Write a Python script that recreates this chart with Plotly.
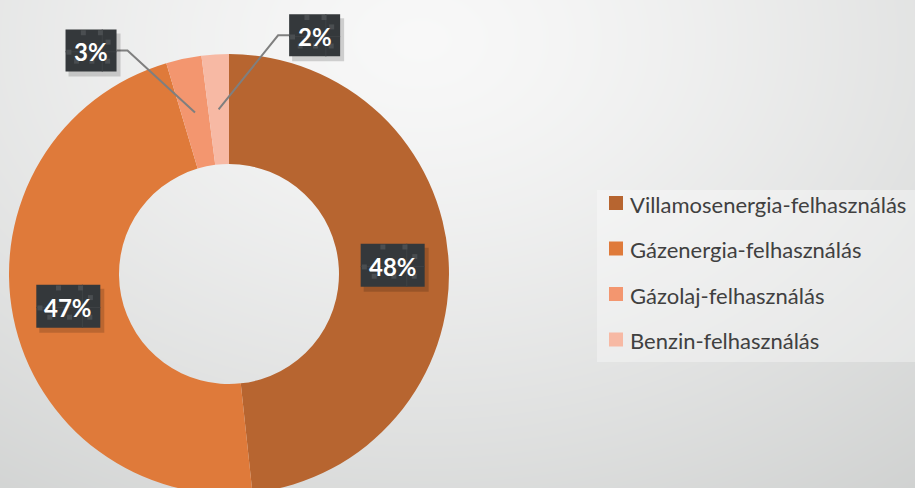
import math
import numpy as np
import plotly.graph_objects as go

# ---------------- data ----------------
labels = ["Villamosenergia-felhasználás", "Gázenergia-felhasználás",
          "Gázolaj-felhasználás", "Benzin-felhasználás"]
values = [48.3, 47.1, 2.6, 2.0]
pct_text = ["48%", "47%", "3%", "2%"]

colors = ["#B76530", "#DF7A3A", "#F3966F", "#F7B9A4"]

W, H = 915, 494            # figure is slightly taller than the 488px window; the donut is cut at the bottom
cx, cy, R = 229, 274, 220   # donut centre / radius in px (from top-left)
HOLE = 0.5

fig = go.Figure()

# ---------------- background gradient ----------------
gx = np.linspace(0, W, 93)
gy = np.linspace(0, H, 50)
GX, GY = np.meshgrid(gx, gy)
d = np.sqrt((GX - 420) ** 2 + (1.4 * (GY - 40)) ** 2)
z = 248 - 40 * (np.clip(d, 0, 900) / 800) ** 1.3
fig.add_trace(go.Heatmap(x=gx, y=gy, z=z, zmin=200, zmax=250, zsmooth="best",
                         colorscale=[[0, "rgb(200,202,201)"], [1, "rgb(250,250,250)"]],
                         showscale=False, hoverinfo="skip"))

# ---------------- donut ----------------
fig.add_trace(go.Pie(
    labels=labels, values=values, sort=False, direction="clockwise", rotation=0,
    hole=HOLE, marker=dict(colors=colors, line=dict(width=0)),
    textinfo="none", hoverinfo="label+percent", showlegend=False,
    domain=dict(x=[(cx - R) / W, (cx + R) / W], y=[(H - cy - R) / H, (H - cy + R) / H]),
))

shapes = []
annotations = []

# ---------------- legend panel ----------------
shapes.append(dict(type="rect", xref="x", yref="y", x0=597, x1=W, y0=190, y1=362,
                   fillcolor="rgba(255,255,255,0.33)", line=dict(width=0), layer="above"))
for i, (lab, col) in enumerate(zip(labels, colors)):
    yc = 203 + i * 45.5
    shapes.append(dict(type="rect", xref="x", yref="y", x0=609, x1=623, y0=yc - 7, y1=yc + 7,
                       fillcolor=col, line=dict(width=0), layer="above"))
    annotations.append(dict(x=628, y=yc + 1, xref="x", yref="y", text=lab, showarrow=False,
                            xanchor="left", yanchor="middle",
                            font=dict(family="Lato", size=22, color="#404040")))

# ---------------- data labels ----------------
total = sum(values)
cum = 0
# label placement: offset of box centre from anchor point (None = inside the ring)
placements = [None, None, (-104, -62), (96, -74)]
big_box = (64, 43)
small_box = (51, 42)
pattern = [(0.34, 0.02), (0.72, 0.02), (0.02, 0.56), (0.89, 0.28),
           (0.19, 0.81), (0.53, 0.81), (0.88, 0.81)]

def draw_box(bx, by, bw, bh, txt):
    x0, y0 = bx - bw / 2, by - bh / 2
    shapes.append(dict(type="rect", xref="x", yref="y", x0=x0 + 3, x1=x0 + bw + 4,
                       y0=y0 + 4, y1=y0 + bh + 5, fillcolor="rgba(0,0,0,0.16)",
                       line=dict(width=0), layer="above"))
    shapes.append(dict(type="rect", xref="x", yref="y", x0=x0, x1=x0 + bw,
                       y0=y0, y1=y0 + bh, fillcolor="#34383B",
                       line=dict(width=0), layer="above"))
    # subtle texture
    shapes.append(dict(type="line", xref="x", yref="y", x0=x0 + 0.72 * bw, x1=x0 + 0.72 * bw,
                       y0=y0, y1=y0 + bh, line=dict(color="#3E4245", width=1), layer="above"))
    shapes.append(dict(type="line", xref="x", yref="y", x0=x0, x1=x0 + bw,
                       y0=y0 + 0.53 * bh, y1=y0 + 0.53 * bh,
                       line=dict(color="#3E4245", width=1), layer="above"))
    for px, py in pattern:
        sx, sy = x0 + px * (bw - 6), y0 + py * (bh - 6)
        shapes.append(dict(type="rect", xref="x", yref="y", x0=sx, x1=sx + 5, y0=sy, y1=sy + 5,
                           fillcolor="#4A4E51", line=dict(width=0), layer="above"))
    annotations.append(dict(x=bx, y=by + 1, xref="x", yref="y", text="<b>%s</b>" % txt,
                            showarrow=False, xanchor="center", yanchor="middle",
                            font=dict(family="Lato", size=24, color="white")))

for i, v in enumerate(values):
    mid = (cum + v / 2) / total * 2 * math.pi
    cum += v
    if placements[i] is None:
        rho = 0.745 * R
        bx = cx + rho * math.sin(mid)
        by = cy - rho * math.cos(mid)
        draw_box(bx, by, *big_box, pct_text[i])
    else:
        rho = 0.75 * R
        ex = cx + rho * math.sin(mid)
        ey = cy - rho * math.cos(mid)
        ox, oy = placements[i]
        bx, by = ex + ox, ey + oy
        bw, bh = small_box
        edge = bx + bw / 2 if ox < 0 else bx - bw / 2
        elbow = edge + 11 if ox < 0 else edge - 11
        shapes.append(dict(type="path", xref="x", yref="y",
                           path="M %.1f %.1f L %.1f %.1f L %.1f %.1f" % (ex, ey, elbow, by, edge, by),
                           line=dict(color="#7F7F7F", width=2), layer="above"))
        draw_box(bx, by, bw, bh, pct_text[i])

fig.update_layout(
    width=W, height=H, margin=dict(l=0, r=0, t=0, b=0),
    paper_bgcolor="#e6e6e6", plot_bgcolor="rgba(0,0,0,0)",
    xaxis=dict(range=[0, W], visible=False, fixedrange=True, domain=[0, 1]),
    yaxis=dict(range=[H, 0], visible=False, fixedrange=True, domain=[0, 1]),
    shapes=shapes, annotations=annotations, showlegend=False,
)

fig.write_html("out.html", config={"displayModeBar": False},
               post_script="document.body.style.margin='0';document.body.style.overflow='hidden';")
